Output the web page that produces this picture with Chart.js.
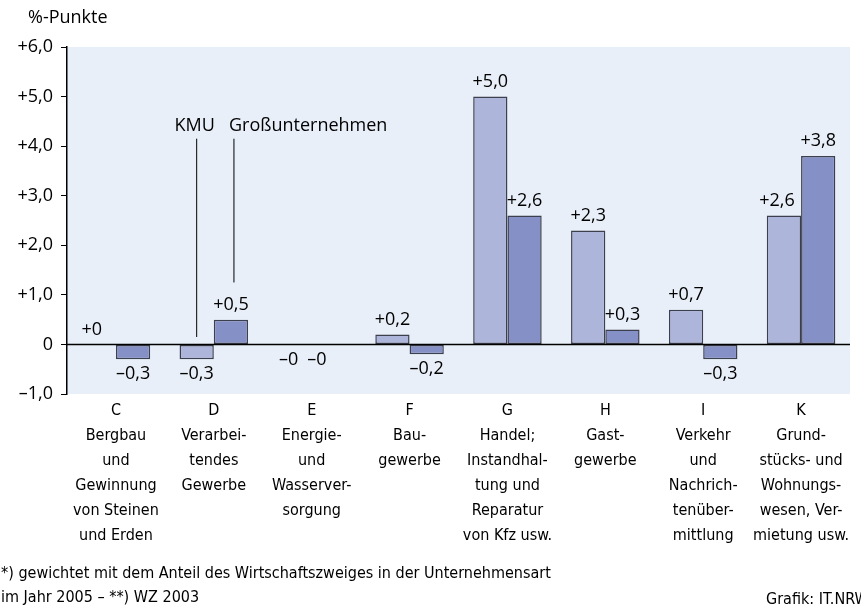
<!DOCTYPE html>
<html>
<head>
<meta charset="utf-8">
<script src="https://cdn.jsdelivr.net/npm/chart.js@4/dist/chart.umd.min.js"></script>
<style>
  html, body { margin: 0; padding: 0; background: #fff; }
  #wrap { width: 861px; height: 607px; }
</style>
</head>
<body>
<div id="wrap"><canvas id="chart" width="861" height="607"></canvas></div>
<script>
// Wirtschaftszweige (WZ 2003)
const categories = ["C", "D", "E", "F", "G", "H", "I", "K"];
const categoryText = [
  ["Bergbau", "und", "Gewinnung", "von Steinen", "und Erden"],
  ["Verarbei-", "tendes", "Gewerbe"],
  ["Energie-", "und", "Wasserver-", "sorgung"],
  ["Bau-", "gewerbe"],
  ["Handel;", "Instandhal-", "tung und", "Reparatur", "von Kfz usw."],
  ["Gast-", "gewerbe"],
  ["Verkehr", "und", "Nachrich-", "tenüber-", "mittlung"],
  ["Grund-", "stücks- und", "Wohnungs-", "wesen, Ver-", "mietung usw."]
];

// %-Punkte
const kmu   = [0, -0.3, 0, 0.2, 5.0, 2.3, 0.7, 2.6];
const gross = [-0.3, 0.5, 0, -0.2, 2.6, 0.3, -0.3, 3.8];
const kmuLabels   = ["+0", "–0,3", "–0", "+0,2", "+5,0", "+2,3", "+0,7", "+2,6"];
const grossLabels = ["–0,3", "+0,5", "–0", "–0,2", "+2,6", "+0,3", "–0,3", "+3,8"];

const yTickLabels = { "-1": "–1,0", "0": "0", "1": "+1,0", "2": "+2,0", "3": "+3,0", "4": "+4,0", "5": "+5,0", "6": "+6,0" };

const footnote1 = "*) gewichtet mit dem Anteil des Wirtschaftszweiges in der Unternehmensart";
const footnote2 = "im Jahr 2005 – **) WZ 2003";
const source = "Grafik: IT.NRW";

const MAIN_FONT = '"Open Sans", "Noto Sans", sans-serif';
const NARROW_FONT = '"DejaVu Sans Condensed", sans-serif';

const decorations = {
  id: "decorations",
  beforeDraw(chart) {
    const { ctx, chartArea: a } = chart;
    ctx.save();
    ctx.fillStyle = "#e8eff9";
    ctx.fillRect(a.left, a.top, a.right - a.left, a.bottom - a.top);
    ctx.restore();
  },
  afterDatasetsDraw(chart) {
    const { ctx, chartArea: a, scales } = chart;
    const y0 = scales.y.getPixelForValue(0);
    ctx.save();
    ctx.strokeStyle = "#000";
    ctx.lineWidth = 1.5;
    ctx.beginPath();
    ctx.moveTo(a.left, y0);
    ctx.lineTo(a.right, y0);
    ctx.stroke();

    // Werte an den Balken
    ctx.fillStyle = "#000";
    ctx.font = "18px " + MAIN_FONT;
    ctx.textAlign = "center";
    ctx.textBaseline = "middle";
    [kmuLabels, grossLabels].forEach((labels, d) => {
      const meta = chart.getDatasetMeta(d);
      labels.forEach((txt, i) => {
        const bar = meta.data[i];
        const top = Math.min(bar.y, bar.base);
        const bottom = Math.max(bar.y, bar.base);
        const y = txt.startsWith("+") ? top - 15 : bottom + 15;
        // kleine Verschiebungen wie in der Vorlage
        let dx = 0;
        if (txt === "–0") dx = d === 0 ? -6 : -12;
        if (d === 0 && (i === 0 || i === 7)) dx = -7;
        ctx.fillText(txt, bar.x + dx, y);
      });
    });

    // Legende mit Hinweislinien
    const kmuBar = chart.getDatasetMeta(0).data[1];
    const grossBar = chart.getDatasetMeta(1).data[1];
    const yTop = scales.y.getPixelForValue(4.15);
    ctx.lineWidth = 1;
    ctx.beginPath();
    ctx.moveTo(kmuBar.x, yTop);
    ctx.lineTo(kmuBar.x, scales.y.getPixelForValue(0.15));
    ctx.moveTo(grossBar.x + 3, yTop);
    ctx.lineTo(grossBar.x + 3, scales.y.getPixelForValue(1.25));
    ctx.stroke();
    ctx.textBaseline = "alphabetic";
    ctx.fillText("KMU", kmuBar.x - 2, yTop - 8);
    ctx.textAlign = "left";
    ctx.fillText("Großunternehmen", grossBar.x - 2, yTop - 8);
    ctx.restore();
  },
  afterDraw(chart) {
    const { ctx, scales } = chart;
    ctx.save();
    ctx.fillStyle = "#000";
    ctx.textBaseline = "middle";
    ctx.font = "18px " + MAIN_FONT;
    ctx.textAlign = "left";
    ctx.fillText("%-Punkte", 28, 18);

    ctx.font = "16px " + NARROW_FONT;
    ctx.textAlign = "center";
    categories.forEach((c, i) => {
      const x = scales.x.getPixelForValue(i);
      [c].concat(categoryText[i]).forEach((line, j) => {
        ctx.fillText(line, x, 411 + j * 25);
      });
    });

    ctx.textAlign = "left";
    ctx.fillText(footnote1, 1, 574);
    ctx.fillText(footnote2, 1, 598);
    ctx.fillText(source, 766, 600);
    ctx.restore();
  }
};

new Chart(document.getElementById("chart"), {
  type: "bar",
  data: {
    labels: categories,
    datasets: [
      {
        label: "KMU",
        data: kmu,
        backgroundColor: "#aeb5da",
        borderColor: "#3c3f4e",
        borderWidth: 1.5,
        borderSkipped: false,
        barPercentage: 1,
        categoryPercentage: 0.7
      },
      {
        label: "Großunternehmen",
        data: gross,
        backgroundColor: "#8590c6",
        borderColor: "#3c3f4e",
        borderWidth: 1.5,
        borderSkipped: false,
        barPercentage: 1,
        categoryPercentage: 0.7
      }
    ]
  },
  options: {
    responsive: false,
    animation: false,
    devicePixelRatio: 1,
    layout: { padding: { top: 47, right: 11, bottom: 213, left: 0 } },
    plugins: {
      legend: { display: false },
      tooltip: { enabled: false }
    },
    scales: {
      x: {
        ticks: { display: false },
        grid: { display: false },
        border: { display: false },
        afterFit(scale) { scale.height = 0; }
      },
      y: {
        min: -1,
        max: 6,
        ticks: {
          stepSize: 1,
          color: "#000",
          padding: 8,
          font: { family: MAIN_FONT, size: 18 },
          callback: v => yTickLabels[v]
        },
        grid: { drawOnChartArea: false, color: "#000", tickLength: 6, tickWidth: 1 },
        border: { display: true, color: "#000", width: 1.5 },
        afterFit(scale) { scale.width = 67; }
      }
    }
  },
  plugins: [decorations]
});
</script>
</body>
</html>
